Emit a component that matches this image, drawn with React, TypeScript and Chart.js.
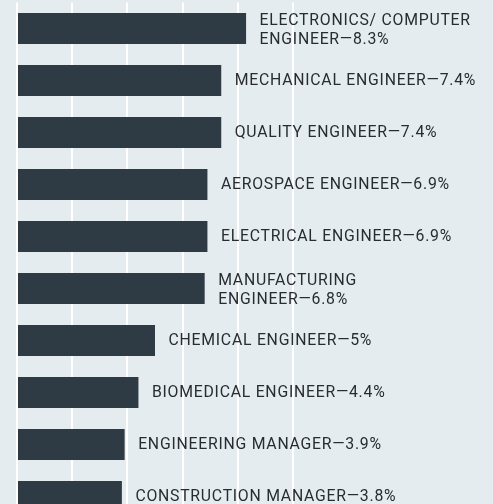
import React, { useEffect, useRef } from "react";
import { Chart, registerables } from "chart.js";

Chart.register(...registerables);

const categoryLines: string[][] = [
  ["ELECTRONICS/ COMPUTER", "ENGINEER"],
  ["MECHANICAL ENGINEER"],
  ["QUALITY ENGINEER"],
  ["AEROSPACE ENGINEER"],
  ["ELECTRICAL ENGINEER"],
  ["MANUFACTURING", "ENGINEER"],
  ["CHEMICAL ENGINEER"],
  ["BIOMEDICAL ENGINEER"],
  ["ENGINEERING MANAGER"],
  ["CONSTRUCTION MANAGER"],
];
const values: number[] = [8.3, 7.4, 7.4, 6.9, 6.9, 6.8, 5, 4.4, 3.9, 3.8];
const xMin = 0;
const xMax = 10;
const xStep = 2;

const BG = "rgb(229,236,240)";
const BAR = "rgb(46,59,68)";
const TEXT = "rgb(40,44,48)";
const FONT = "400 15.8px Roboto, 'Liberation Sans', sans-serif";

const labelPlugin = {
  id: "barLabels",
  afterDatasetsDraw(chart: any) {
    const ctx = chart.ctx;
    const meta = chart.getDatasetMeta(0);
    ctx.save();
    ctx.font = FONT;
    try {
      (ctx as any).letterSpacing = "0.75px";
    } catch (e) {}
    ctx.fillStyle = TEXT;
    ctx.textBaseline = "middle";
    ctx.textAlign = "left";
    const lh = 19.5;
    meta.data.forEach((bar: any, i: number) => {
      const lines = categoryLines[i].slice();
      lines[lines.length - 1] = lines[lines.length - 1] + "\u2014" + String(values[i]) + "%";
      const n = lines.length;
      const cy = bar.y + (n > 1 ? 2 : 0.5);
      lines.forEach((ln, k) => {
        const y = cy + (k - (n - 1) / 2) * lh;
        ctx.fillText(ln, bar.x + 13.5, y);
      });
    });
    ctx.restore();
  },
};

export default function App() {
  const ref = useRef<HTMLCanvasElement>(null);
  useEffect(() => {
    if (!ref.current) return;
    const chart = new Chart(ref.current, {
      type: "bar",
      data: {
        labels: categoryLines.map((l) => l.join(" ")),
        datasets: [
          {
            data: values,
            backgroundColor: BAR,
            borderWidth: 0,
            barPercentage: 0.6,
            categoryPercentage: 1,
          },
        ],
      },
      options: {
        indexAxis: "y",
        responsive: false,
        devicePixelRatio: 1,
        animation: false,
        layout: { padding: { left: 17, right: 200, top: 2.5, bottom: 2.5 } },
        plugins: {
          legend: { display: false },
          tooltip: { enabled: false },
        },
        scales: {
          x: {
            min: xMin,
            max: xMax,
            ticks: { display: false, stepSize: xStep },
            border: { display: false },
            grid: { color: "#ffffff", lineWidth: 2, drawTicks: false },
          },
          y: { display: false },
        },
      },
      plugins: [labelPlugin],
    });
    return () => chart.destroy();
  }, []);
  return (
    <div
      style={{
        position: "fixed",
        top: 0,
        left: 0,
        width: 493,
        height: 504,
        overflow: "hidden",
        background: BG,
      }}
    >
      <canvas ref={ref} width={493} height={525} style={{ display: "block" }} />
    </div>
  );
}
